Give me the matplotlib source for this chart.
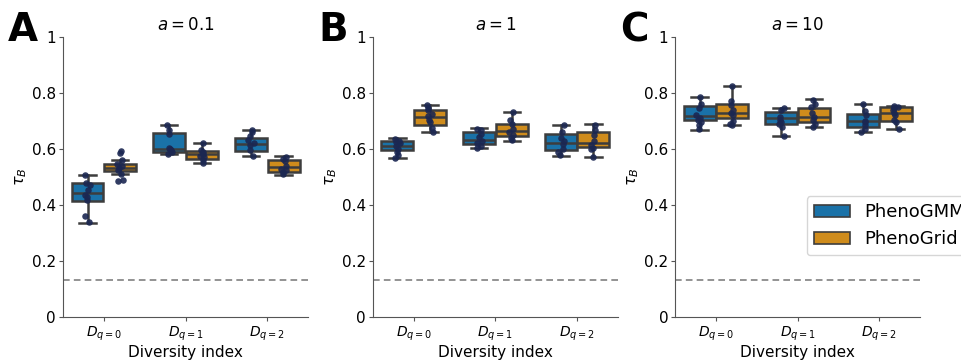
import numpy as np
import matplotlib
matplotlib.use("Agg")
import matplotlib.pyplot as plt
from matplotlib.patches import Patch

# categories / labels
diversity_labels = [r"$D_{q=0}$", r"$D_{q=1}$", r"$D_{q=2}$"]
panel_titles = [r"$a = 0.1$", r"$a = 1$", r"$a = 10$"]
panel_letters = ["A", "B", "C"]
methods = ["PhenoGMM", "PhenoGrid"]
ytick_vals = [0, 0.2, 0.4, 0.6, 0.8, 1]
ytick_labels = ["0", "0.2", "0.4", "0.6", "0.8", "1"]
baseline = 0.133

# box stats per diversity index: [whislo, q1, med, q3, whishi]
a_gmm_box = [[0.337, 0.415, 0.443, 0.478, 0.508],
             [0.582, 0.590, 0.600, 0.658, 0.684],
             [0.574, 0.593, 0.618, 0.640, 0.669]]
a_grid_box = [[0.509, 0.521, 0.532, 0.548, 0.562],
              [0.549, 0.564, 0.581, 0.593, 0.622],
              [0.508, 0.519, 0.536, 0.562, 0.574]]
b_gmm_box = [[0.567, 0.596, 0.609, 0.628, 0.638],
             [0.603, 0.616, 0.632, 0.662, 0.676],
             [0.576, 0.598, 0.622, 0.655, 0.687]]
b_grid_box = [[0.659, 0.684, 0.716, 0.739, 0.758],
              [0.629, 0.648, 0.665, 0.691, 0.733],
              [0.570, 0.608, 0.622, 0.660, 0.688]]
c_gmm_box = [[0.669, 0.702, 0.717, 0.753, 0.786],
             [0.647, 0.690, 0.709, 0.733, 0.748],
             [0.660, 0.680, 0.700, 0.725, 0.762]]
c_grid_box = [[0.684, 0.710, 0.728, 0.762, 0.826],
              [0.680, 0.697, 0.715, 0.748, 0.777],
              [0.671, 0.700, 0.729, 0.750, 0.752]]

# individual runs
a_gmm_pts = [[0.507, 0.480, 0.470, 0.455, 0.436, 0.430, 0.416, 0.360, 0.338],
             [0.684, 0.668, 0.655, 0.605, 0.600, 0.595, 0.590, 0.582],
             [0.668, 0.660, 0.648, 0.632, 0.620, 0.614, 0.598, 0.575]]
a_grid_pts = [[0.592, 0.586, 0.560, 0.548, 0.540, 0.533, 0.525, 0.512, 0.490, 0.484],
              [0.622, 0.598, 0.590, 0.582, 0.575, 0.570, 0.560, 0.550],
              [0.572, 0.565, 0.556, 0.540, 0.530, 0.524, 0.516, 0.510]]
b_gmm_pts = [[0.636, 0.630, 0.625, 0.620, 0.612, 0.600, 0.590, 0.580, 0.567],
             [0.673, 0.668, 0.655, 0.642, 0.630, 0.622, 0.612, 0.605],
             [0.686, 0.660, 0.640, 0.628, 0.618, 0.600, 0.590, 0.578]]
b_grid_pts = [[0.757, 0.748, 0.740, 0.725, 0.718, 0.702, 0.695, 0.675, 0.662],
              [0.732, 0.702, 0.690, 0.672, 0.660, 0.650, 0.640, 0.632],
              [0.686, 0.668, 0.650, 0.628, 0.615, 0.605, 0.600, 0.571]]
c_gmm_pts = [[0.785, 0.762, 0.748, 0.722, 0.712, 0.705, 0.695, 0.685, 0.670],
             [0.745, 0.738, 0.715, 0.705, 0.698, 0.690, 0.680, 0.648],
             [0.760, 0.735, 0.720, 0.700, 0.695, 0.685, 0.672, 0.662]]
c_grid_pts = [[0.824, 0.770, 0.758, 0.740, 0.730, 0.720, 0.700, 0.690, 0.685],
              [0.775, 0.762, 0.750, 0.730, 0.715, 0.705, 0.690, 0.680],
              [0.752, 0.750, 0.745, 0.740, 0.730, 0.720, 0.705, 0.698, 0.672]]

panels = [(a_gmm_box, a_grid_box, a_gmm_pts, a_grid_pts),
          (b_gmm_box, b_grid_box, b_gmm_pts, b_grid_pts),
          (c_gmm_box, c_grid_box, c_gmm_pts, c_grid_pts)]

colors = ["#1a72a8", "#cf8c1c"]
edge = "#3d3d3d"
dot = "#1b2752"

fig = plt.figure(figsize=(9.61, 3.6), dpi=100)
lefts = [0.0656, 0.388, 0.7025]
rng = np.random.default_rng(3)  # jitter for strip points only

for k, (gbox, rbox, gpts, rpts) in enumerate(panels):
    ax = fig.add_axes([lefts[k], 0.12, 0.255, 0.777])
    for h, (boxes, pts) in enumerate([(gbox, gpts), (rbox, rpts)]):
        off = -0.2 if h == 0 else 0.2
        stats = [dict(whislo=b[0], q1=b[1], med=b[2], q3=b[3], whishi=b[4])
                 for b in boxes]
        pos = [i + off for i in range(len(boxes))]
        ax.bxp(stats, positions=pos, widths=0.39, patch_artist=True,
               showfliers=False, capwidths=0.2,
               boxprops=dict(facecolor=colors[h], edgecolor=edge, linewidth=1.8),
               medianprops=dict(color=edge, linewidth=1.8),
               whiskerprops=dict(color=edge, linewidth=1.8),
               capprops=dict(color=edge, linewidth=1.8))
        for i, p in enumerate(pts):
            x = pos[i] + rng.uniform(-0.04, 0.04, len(p))
            ax.scatter(x, p, s=22, color=dot, alpha=0.9, zorder=5, linewidths=0)
    ax.axhline(baseline, color="#808080", linestyle="--", linewidth=1.2,
               dashes=(4, 2.5))
    ax.set_xlim(-0.5, 2.5)
    ax.set_ylim(0, 1)
    ax.set_xticks(range(3))
    ax.set_xticklabels(diversity_labels, fontsize=10)
    ax.set_yticks(ytick_vals)
    ax.set_yticklabels(ytick_labels, fontsize=11)
    ax.tick_params(colors="#555555", labelcolor="black", length=3)
    ax.tick_params(axis="x", pad=3)
    ax.tick_params(axis="y", pad=2)
    ax.set_xlabel("Diversity index", fontsize=11, labelpad=1)
    ax.set_ylabel(r"$\tau_B$", fontsize=11.5, labelpad=2)
    ax.set_title(panel_titles[k], fontsize=12, pad=5)
    for s in ["top", "right"]:
        ax.spines[s].set_visible(False)
    for s in ["left", "bottom"]:
        ax.spines[s].set_color("#555555")
    fig.text(lefts[k] - 0.057, 0.885, panel_letters[k], fontsize=28,
             fontweight="bold")
    if k == 2:
        handles = [Patch(facecolor=colors[0], edgecolor=edge, linewidth=1.2),
                   Patch(facecolor=colors[1], edgecolor=edge, linewidth=1.2)]
        ax.legend(handles, methods, loc="upper left",
                  bbox_to_anchor=(0.537, 0.432), borderaxespad=0,
                  fontsize=13, frameon=True)

fig.savefig("out.png", dpi=100)
